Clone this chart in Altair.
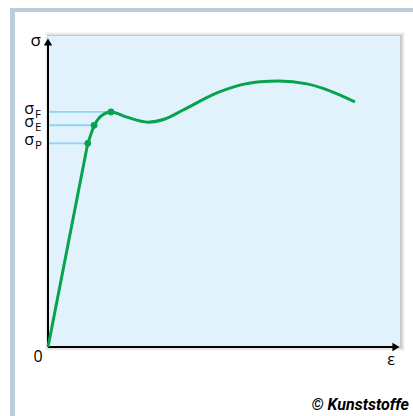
import altair as alt
import pandas as pd

# Stress-strain curve (arbitrary units, 0..100 on both axes)
# Linear elastic part from the origin through the proportional limit
eps_linear = [0.0, 11.3, 13.1]
sig_linear = [0.0, 65.5, 71.3]

# Yield region, dip and drawn-out plateau
eps_curve = [13.1, 14.8, 17.9, 22.4, 28.4, 33.2, 38.4, 48.0, 54.5, 60.2, 65.5, 73.6, 83.0, 87.2]
sig_curve = [71.3, 74.0, 75.6, 73.9, 72.3, 73.3, 76.2, 81.7, 84.2, 85.3, 85.5, 84.6, 81.0, 78.8]

# Characteristic points: proportional limit, elastic limit, yield point
mark_names = ["P", "E", "F"]
mark_eps = [11.3, 13.1, 17.9]
mark_sig = [65.5, 71.3, 75.6]

W, H = 352, 311
GREEN = "#07a24e"
CYAN = "#8fd4f4"
FRAME = "#bccdd8"
FONT = "Open Sans"

xs = alt.Scale(domain=[0, 100], nice=False, zero=False)
ys = alt.Scale(domain=[0, 100], nice=False, zero=False)

lin_df = pd.DataFrame({"eps": eps_linear, "sig": sig_linear})
cur_df = pd.DataFrame({"eps": eps_curve, "sig": sig_curve})
pts_df = pd.DataFrame({"name": mark_names, "eps": mark_eps, "sig": mark_sig, "zero": [0.0] * 3})
one = pd.DataFrame({"k": [0]})

base = alt.Chart(one)

# Page frame (top and left bars)
frame_top = base.mark_rect(color=FRAME).encode(
    x=alt.value(-38), x2=alt.value(W + 20), y=alt.value(-28), y2=alt.value(-24)
)
frame_left = base.mark_rect(color=FRAME).encode(
    x=alt.value(-38), x2=alt.value(-33), y=alt.value(-28), y2=alt.value(H + 80)
)

# Soft drop shadow around the plot panel
shadows = [
    base.mark_rect(color="#000000", opacity=op).encode(
        x=alt.value(-g + 1), x2=alt.value(W + g + 1), y=alt.value(-g), y2=alt.value(H + g)
    )
    for g, op in [(4, 0.03), (3, 0.04), (2, 0.06), (1, 0.09)]
]
panel = base.mark_rect(color="#e1f2fc").encode(
    x=alt.value(0), x2=alt.value(W), y=alt.value(0), y2=alt.value(H)
)

# Guide lines from the axis to each characteristic point
guides = alt.Chart(pts_df).mark_rule(color=CYAN, strokeWidth=1.8).encode(
    x=alt.X("zero:Q", scale=xs, axis=None),
    x2="eps:Q",
    y=alt.Y("sig:Q", scale=ys, axis=None),
)

# Axes with arrowheads
axis_y = base.mark_rule(color="black", strokeWidth=2).encode(
    x=alt.value(0), y=alt.value(6), y2=alt.value(H)
)
axis_x = base.mark_rule(color="black", strokeWidth=2).encode(
    x=alt.value(0), x2=alt.value(W - 6), y=alt.value(H)
)
arrow_y = base.mark_point(shape="triangle-up", filled=True, color="black", size=70, opacity=1).encode(
    x=alt.value(0), y=alt.value(6)
)
arrow_x = base.mark_point(shape="triangle-right", filled=True, color="black", size=70, opacity=1).encode(
    x=alt.value(W - 4), y=alt.value(H)
)

line_lin = alt.Chart(lin_df).mark_line(color=GREEN, strokeWidth=3).encode(
    x=alt.X("eps:Q", scale=xs, axis=None), y=alt.Y("sig:Q", scale=ys, axis=None)
)
line_cur = alt.Chart(cur_df).mark_line(color=GREEN, strokeWidth=3, interpolate="monotone").encode(
    x=alt.X("eps:Q", scale=xs, axis=None), y=alt.Y("sig:Q", scale=ys, axis=None)
)
dots = alt.Chart(pts_df).mark_circle(color=GREEN, size=45, opacity=1).encode(
    x=alt.X("eps:Q", scale=xs, axis=None), y=alt.Y("sig:Q", scale=ys, axis=None)
)

# Axis labels sigma_P, sigma_E, sigma_F
sig_text = alt.Chart(pts_df).mark_text(
    text="σ", font=FONT, fontSize=16, align="right", baseline="middle", dx=-14, dy=-3, color="black"
).encode(x=alt.X("zero:Q", scale=xs, axis=None), y=alt.Y("sig:Q", scale=ys, axis=None))
sub_text = alt.Chart(pts_df).mark_text(
    font=FONT, fontSize=11.5, align="left", baseline="middle", dx=-13, dy=3, color="black"
).encode(
    x=alt.X("zero:Q", scale=xs, axis=None),
    y=alt.Y("sig:Q", scale=ys, axis=None),
    text="name:N",
)

label_sigma = base.mark_text(text="σ", font=FONT, fontSize=17, align="right", baseline="middle", color="black").encode(
    x=alt.value(-7), y=alt.value(5)
)
label_zero = base.mark_text(text="0", font=FONT, fontSize=16, align="center", baseline="middle", color="black").encode(
    x=alt.value(-10), y=alt.value(H + 10)
)
label_eps = base.mark_text(text="ε", font=FONT, fontSize=16, align="center", baseline="middle", color="black").encode(
    x=alt.value(W - 9), y=alt.value(H + 13)
)
credit = base.mark_text(
    text="© Kunststoffe", font="Roboto", fontSize=16, fontWeight="bold", fontStyle="italic",
    align="right", baseline="middle", color="black"
).encode(x=alt.value(W + 9), y=alt.value(H + 58))

chart = alt.layer(
    frame_top, frame_left, *shadows, panel, guides, axis_y, axis_x, arrow_y, arrow_x,
    line_lin, line_cur, dots, sig_text, sub_text, label_sigma, label_zero, label_eps, credit,
).properties(
    width=W, height=H,
    padding={"left": 48, "top": 36, "right": 13, "bottom": 69},
    autosize=alt.AutoSizeParams(type="none"),
    background="white",
).configure_view(stroke=None)

chart.save("out.html", embed_options={"renderer": "svg", "actions": False})
